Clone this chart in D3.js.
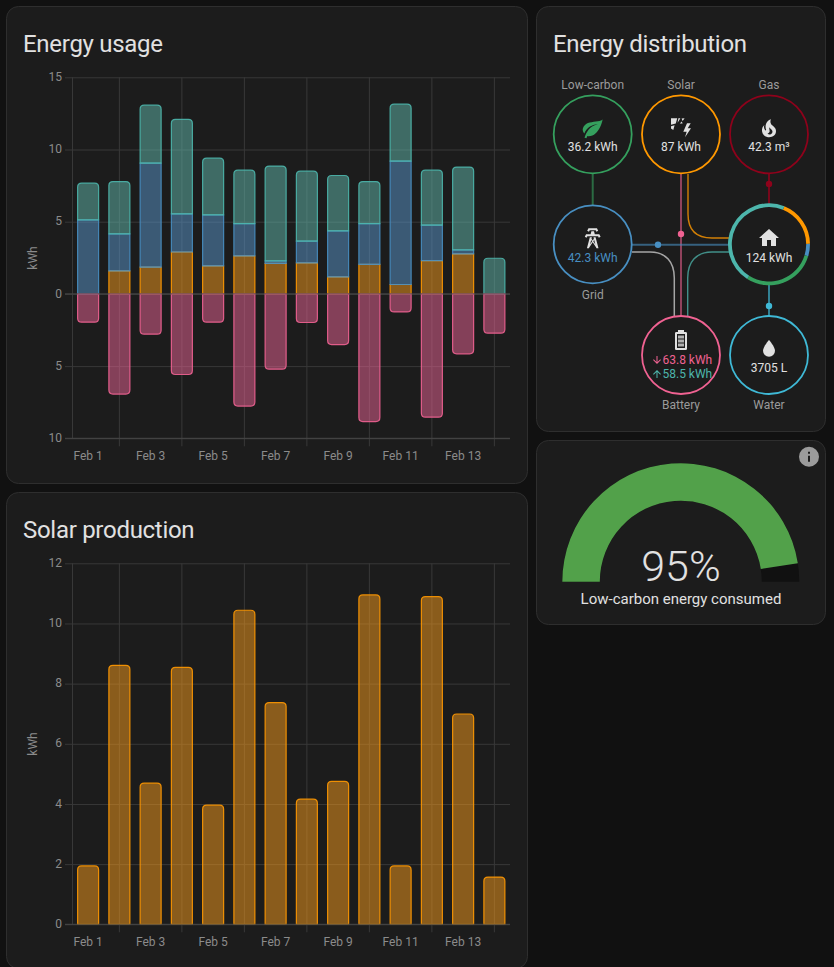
<!DOCTYPE html>
<html>
<head>
<meta charset="utf-8">
<script src="https://cdn.jsdelivr.net/npm/d3@7"></script>
<style>
  html, body { margin: 0; background: #111; overflow: hidden; }
  svg { display: block; font-family: Roboto, sans-serif; }
  .domain, .tick line { stroke: #383838; }
  .tick text { fill: #8b8b8b; font-size: 12px; font-family: Roboto, sans-serif; }
</style>
</head>
<body>
<svg id="page" width="834" height="967"></svg>
<script>
// daily values in kWh
const days = ['Feb 1','Feb 2','Feb 3','Feb 4','Feb 5','Feb 6','Feb 7','Feb 8','Feb 9','Feb 10','Feb 11','Feb 12','Feb 13','Feb 14'];
const usedSolar   = [0, 1.6, 1.85, 2.9, 1.94, 2.63, 2.12, 2.15, 1.18, 2.05, 0.65, 2.31, 2.77, 0];
const usedGrid    = [5.13, 2.55, 7.2, 2.64, 3.53, 2.24, 0.17, 1.5, 3.18, 2.82, 8.55, 2.45, 0.28, 0];
const usedBattery = [2.54, 3.63, 4.02, 6.54, 3.93, 3.7, 6.56, 4.85, 3.84, 2.91, 3.94, 3.81, 5.73, 2.47];
const toBattery   = [1.96, 6.94, 2.79, 5.58, 1.96, 7.77, 5.21, 1.98, 3.51, 8.84, 1.25, 8.54, 4.15, 2.72];
const solarProduction = [1.94, 8.61, 4.69, 8.54, 3.96, 10.44, 7.37, 4.16, 4.75, 10.95, 1.94, 10.89, 6.99, 1.57];

const usageTicks = [-10, -5, 0, 5, 10, 15];
const solarTicks = [0, 2, 4, 6, 8, 10, 12];
const labelDays = days.filter((d, i) => i % 2 === 0);
const gridDays = days.filter((d, i) => i % 2 === 1);

// home ring shares: solar, grid, low-carbon, battery
const homeShares = [23.2, 6.1, 36.2, 58.5];
const gaugeValue = 95;

const colors = {
  solar: '#ff9800', grid: '#488fc2', battery: '#4db6ac', batteryIn: '#f06292',
  lowCarbon: '#35a05e', gas: '#8e021b', water: '#3fb9d6', text: '#e1e1e1', muted: '#9b9b9b'
};
// drawn at half opacity, so the gridlines still show through the bars
const barFills = { solar: '#f89c1c', grid: '#5a98ce', battery: '#62baae', batteryIn: '#ec6496' };

const svg = d3.select('#page');

function card(x, y, w, h) {
  svg.append('rect').attr('x', x).attr('y', y).attr('width', w).attr('height', h).attr('rx', 12)
    .attr('fill', '#1c1c1c').attr('stroke', '#2e2e2e').attr('stroke-width', 1);
}

function title(text, x, y) {
  svg.append('text').attr('x', x).attr('y', y).attr('font-size', 24).attr('letter-spacing', '-0.288px')
    .attr('fill', colors.text).text(text);
}

card(6.5, 6.5, 521, 477);
card(6.5, 492.5, 521, 476);
card(536.5, 6.5, 289, 425);
card(536.5, 440.5, 289, 184);
title('Energy usage', 23, 52);
title('Solar production', 23, 538);

// bar outline, rounded only on the outer end
function barPath(x, w, y0, y1, rounded) {
  const r = rounded ? Math.min(4, Math.abs(y1 - y0)) : 0;
  const s = y1 < y0 ? 1 : -1; // 1 = grows upwards
  const p = d3.path();
  p.moveTo(x, y0);
  p.lineTo(x, y1 + s * r);
  if (r) p.quadraticCurveTo(x, y1, x + r, y1);
  p.lineTo(x + w - r, y1);
  if (r) p.quadraticCurveTo(x + w, y1, x + w, y1 + s * r);
  p.lineTo(x + w, y0);
  p.closePath();
  return p.toString();
}

function chartFrame(yScale, ticks, tickFormat, xLeft, xRight) {
  const x = d3.scaleBand().domain(days).range([xLeft, xRight]).paddingInner(0.296).paddingOuter(0.148);
  const [bottom, top] = yScale.range();
  const frame = svg.append('g');

  frame.append('g').attr('transform', `translate(${xRight},0)`)
    .call(d3.axisLeft(yScale).tickValues(ticks).tickFormat(tickFormat).tickSize(xRight - 65).tickPadding(3))
    .call(g => g.select('.domain').remove())
    .call(g => g.selectAll('text').attr('dy', '0.26em'));

  frame.append('line').attr('x1', xLeft).attr('x2', xLeft).attr('y1', top).attr('y2', bottom).attr('stroke', '#383838');

  frame.append('g').attr('transform', `translate(0,${bottom + 8})`)
    .call(d3.axisTop(x).tickValues(gridDays).tickFormat('').tickSize(bottom + 8 - top))
    .call(g => g.select('.domain').remove());

  frame.append('g').attr('transform', `translate(0,${bottom})`)
    .call(d3.axisBottom(x).tickValues(labelDays).tickSize(0).tickPadding(13))
    .call(g => g.select('.domain').remove());

  return x;
}

function drawBar(x, day, v0, v1, y, key, rounded) {
  svg.append('path')
    .attr('d', barPath(x(day) + 0.5, x.bandwidth() - 1, y(v0), y(v1), rounded))
    .attr('fill', barFills[key]).attr('fill-opacity', 0.5)
    .attr('stroke', colors[key]).attr('stroke-width', 1.2).attr('stroke-opacity', 0.9);
}

// Energy usage
const yUsage = d3.scaleLinear().domain([-10, 15]).range([438.3, 77.3]);
const xUsage = chartFrame(yUsage, usageTicks, d => Math.abs(d), 72.5, 510);

const usageRows = days.map((d, i) => ({ day: d, solar: usedSolar[i], grid: usedGrid[i], battery: usedBattery[i] }));
const stacks = d3.stack().keys(['solar', 'grid', 'battery'])(usageRows);
stacks.forEach(layer => {
  layer.forEach(seg => {
    if (seg[1] - seg[0] <= 0) return;
    drawBar(xUsage, seg.data.day, seg[0], seg[1], yUsage, layer.key, layer.key === 'battery');
  });
});
days.forEach((d, i) => drawBar(xUsage, d, 0, -toBattery[i], yUsage, 'batteryIn', true));

svg.append('line').attr('x1', 65).attr('x2', 510).attr('y1', yUsage(0)).attr('y2', yUsage(0)).attr('stroke', '#484848');
svg.append('line').attr('x1', 65).attr('x2', 510).attr('y1', yUsage(-10)).attr('y2', yUsage(-10)).attr('stroke', '#484848');
svg.append('text').attr('transform', 'translate(37,258) rotate(-90)').attr('text-anchor', 'middle')
  .attr('font-size', 12).attr('fill', '#8b8b8b').text('kWh');

// Solar production
const ySolar = d3.scaleLinear().domain([0, 12]).range([924.3, 563.3]);
const xSolar = chartFrame(ySolar, solarTicks, d => d, 72.5, 510);
days.forEach((d, i) => drawBar(xSolar, d, 0, solarProduction[i], ySolar, 'solar', true));
svg.append('line').attr('x1', 65).attr('x2', 510).attr('y1', ySolar(0)).attr('y2', ySolar(0)).attr('stroke', '#484848');
svg.append('text').attr('transform', 'translate(37,744) rotate(-90)').attr('text-anchor', 'middle')
  .attr('font-size', 12).attr('fill', '#8b8b8b').text('kWh');

// Energy distribution
title('Energy distribution', 553, 52);
const flow = svg.append('g').attr('fill', 'none');
const flows = [
  ['M592.7 174V205', colors.lowCarbon, 2, 0.6],
  ['M681 174V316', colors.batteryIn, 2, 0.55],
  ['M688 174V214C688 232 698 238 712 238H730', colors.solar, 1.4, 0.8],
  ['M632 244.7H730', colors.grid, 2, 0.6],
  ['M632 252H650C666 252 674.3 262 674.3 278V316', '#c8c8c8', 1.5, 0.8],
  ['M687.7 316V278C687.7 262 696 252 712 252H730', colors.battery, 1.4, 0.75],
  ['M769 174V205', colors.gas, 2, 0.8],
  ['M769 284V316', colors.water, 2, 0.65]
];
flows.forEach(f => flow.append('path').attr('d', f[0]).attr('stroke', f[1]).attr('stroke-width', f[2]).attr('stroke-opacity', f[3]));

const flowDots = [[681, 234, colors.batteryIn], [658, 244.7, colors.grid], [769, 184, colors.gas], [769, 306, colors.water]];
flowDots.forEach(d => svg.append('circle').attr('cx', d[0]).attr('cy', d[1]).attr('r', 3.2).attr('fill', d[2]));

const nodes = [
  { x: 592.7, y: 134.3, color: colors.lowCarbon },
  { x: 681, y: 134.3, color: colors.solar },
  { x: 769, y: 134.3, color: colors.gas },
  { x: 592.7, y: 244.3, color: colors.grid },
  { x: 681, y: 355, color: colors.batteryIn },
  { x: 769, y: 355, color: colors.water }
];
nodes.forEach(n => svg.append('circle').attr('cx', n.x).attr('cy', n.y).attr('r', 39)
  .attr('fill', '#1c1c1c').attr('stroke', n.color).attr('stroke-width', 1.8));

// home ring
const ringColors = [colors.solar, colors.grid, colors.lowCarbon, colors.battery];
const startAngle = 22 * Math.PI / 180;
const pie = d3.pie().sort(null).startAngle(startAngle).endAngle(startAngle + 2 * Math.PI);
const ringArc = d3.arc().innerRadius(37.2).outerRadius(41);
svg.append('circle').attr('cx', 769).attr('cy', 244.3).attr('r', 38).attr('fill', '#1c1c1c');
svg.append('g').attr('transform', 'translate(769,244.3)').selectAll('path').data(pie(homeShares)).join('path')
  .attr('d', ringArc).attr('fill', (d, i) => ringColors[i]);

function label(text, x, y, size, color, weight, anchor) {
  return svg.append('text').attr('x', x).attr('y', y).attr('font-size', size).attr('fill', color)
    .attr('font-weight', weight || 400).attr('text-anchor', anchor || 'middle').text(text);
}

const nodeLabels = [['Low-carbon', 592.7, 89], ['Solar', 681, 89], ['Gas', 769, 89], ['Grid', 592.7, 299], ['Battery', 681, 409], ['Water', 769, 409]];
nodeLabels.forEach(l => label(l[0], l[1], l[2], 12, colors.muted));

label('36.2 kWh', 592.7, 151.3, 12, colors.text);
label('87 kWh', 681, 151.3, 12, colors.text);
label('42.3 m³', 769, 151.3, 12, colors.text);
label('42.3 kWh', 592.7, 262, 12, colors.grid);
label('124 kWh', 769, 261.5, 12, colors.text);
label('3705 L', 769, 372, 12, colors.text);
label('63.8 kWh', 662.5, 364.3, 12, colors.batteryIn, 400, 'start');
label('58.5 kWh', 662.5, 378.3, 12, colors.battery, 400, 'start');

// small arrows beside the battery values
function icon(d, x, y, color, scale) {
  return svg.append('path').attr('d', d).attr('fill', color)
    .attr('transform', `translate(${x},${y}) scale(${scale || 1})`);
}
const mdiDown = 'M11,4H13V16L18.5,10.5L19.92,11.92L12,19.84L4.08,11.92L5.5,10.5L11,16V4Z';
const mdiUp = 'M13,20H11V8L5.5,13.5L4.08,12.08L12,4.16L19.92,12.08L18.5,13.5L13,8V20Z';
icon(mdiDown, 651, 354, colors.batteryIn, 0.5);
icon(mdiUp, 651, 368, colors.battery, 0.5);

const mdiLeaf = 'M17,8C8,10 5.9,16.17 3.82,21.34L5.71,22L6.66,19.7C7.14,19.87 7.64,20 8,20C19,20 22,3 22,3C21,5 14,5.25 9,6.25C4,7.25 2,11.5 2,13.5C2,15.5 3.75,17.25 3.75,17.25C7,8 17,8 17,8Z';
const mdiTower = 'M8.28,5.45L6.5,4.55L7.76,2H16.24L17.5,4.55L15.72,5.45L15,4H9L8.28,5.45M18.62,8H14.09L13.3,5H10.7L9.91,8H5.38L4.1,10.55L5.89,11.44L6.62,10H17.38L18.11,11.44L19.9,10.55L18.62,8M17.77,22H15.7L15.46,21.1L12,15.9L8.53,21.1L8.3,22H6.23L9.12,11H11.19L10.83,12.35L12,14.1L13.16,12.35L12.81,11H14.88L17.77,22M11.4,15L10.5,13.65L9.32,18.13L11.4,15M14.68,18.12L13.5,13.64L12.6,15L14.68,18.12Z';
const mdiFire = 'M17.66 11.2C17.43 10.9 17.15 10.64 16.89 10.38C16.22 9.78 15.46 9.35 14.82 8.72C13.33 7.26 13 4.85 13.95 3C13 3.23 12.17 3.75 11.46 4.32C8.87 6.4 7.85 10.07 9.07 13.22C9.11 13.32 9.15 13.42 9.15 13.55C9.15 13.77 9 13.97 8.8 14.05C8.57 14.15 8.33 14.09 8.14 13.93C8.08 13.88 8.04 13.83 8 13.76C6.87 12.33 6.69 10.28 7.45 8.64C5.78 10 4.87 12.3 5 14.47C5.06 14.97 5.12 15.47 5.29 15.97C5.43 16.57 5.7 17.17 6 17.7C7.08 19.43 8.95 20.67 10.96 20.92C13.1 21.19 15.39 20.8 17.03 19.32C18.86 17.66 19.5 15 18.56 12.72L18.43 12.46C18.22 12 17.66 11.2 17.66 11.2M14.5 17.5C14.22 17.74 13.76 18 13.4 18.1C12.28 18.5 11.16 17.94 10.5 17.28C11.69 17 12.4 16.12 12.61 15.23C12.78 14.43 12.46 13.77 12.33 13C12.21 12.26 12.23 11.63 12.5 10.94C12.69 11.32 12.89 11.7 13.13 12C13.9 13 15.11 13.44 15.37 14.8C15.41 14.94 15.43 15.08 15.43 15.23C15.46 16.05 15.1 16.95 14.5 17.5H14.5Z';
const mdiHome = 'M10,20V14H14V20H19V12H22L12,3L2,12H5V20H10Z';
const mdiWater = 'M12,20A6,6 0 0,1 6,14C6,10 12,3.25 12,3.25C12,3.25 18,10 18,14A6,6 0 0,1 12,20Z';
const mdiInfo = 'M13,9H11V7H13M13,17H11V11H13M12,2A10,10 0 0,0 2,12A10,10 0 0,0 12,22A10,10 0 0,0 22,12A10,10 0 0,0 12,2Z';
const batteryIcon = 'M16,20H8V6H16M16.67,4H15V2H9V4H7.33A1.33,1.33 0 0,0 6,5.33V20.67C6,21.4 6.6,22 7.33,22H16.67A1.33,1.33 0 0,0 18,20.67V5.33C18,4.6 17.4,4 16.67,4Z';
const batteryBars = 'M9,7.5H15V10.5H9ZM9,11.5H15V14.5H9ZM9,15.5H15V18.5H9Z';
// hand traced: tilted panel with sun rays and a bolt
const panelIcon = 'M2,2.3H8.2L6.8,7.6L2,8.8ZM9.4,2.3H11.4L8.6,6.8ZM2,10.2L5.6,9.2L4.3,14L2,12.5ZM12.6,2.6L15.6,2.2L13.6,5ZM10.8,7.6L12.8,5.6L13.6,7.4ZM18,7.3L14.3,15.7H17.7L16,21.3L22,12.3H18.7L21.7,7.3Z';

icon(mdiLeaf, 580.7, 116.3, colors.lowCarbon);
icon(panelIcon, 669, 116, colors.text);
icon(mdiFire, 757, 116.3, colors.text);
icon(mdiTower, 580.7, 226.3, colors.text);
icon(mdiHome, 757, 226, colors.text);
icon(batteryIcon, 669, 328, colors.text).attr('fill-rule', 'evenodd');
icon(batteryBars, 669, 328, colors.text).attr('fill-opacity', 0.75);
icon(mdiWater, 757, 336.8, colors.text);

// Gauge
const gaugeAngle = d3.scaleLinear().domain([0, 100]).range([-Math.PI / 2, Math.PI / 2]);
const gaugeArc = d3.arc().innerRadius(81).outerRadius(118.5);
const gauge = svg.append('g').attr('transform', 'translate(680.8,581.7)');
gauge.append('path').attr('d', gaugeArc({ startAngle: gaugeAngle(0), endAngle: gaugeAngle(100) })).attr('fill', '#111');
gauge.append('path').attr('d', gaugeArc({ startAngle: gaugeAngle(0), endAngle: gaugeAngle(gaugeValue) })).attr('fill', '#52a14a');
label(gaugeValue + '%', 681, 581, 43, colors.text, 300);
label('Low-carbon energy consumed', 681, 603.5, 15, colors.text);
icon(mdiInfo, 797, 444.7, colors.muted);
</script>
</body>
</html>
